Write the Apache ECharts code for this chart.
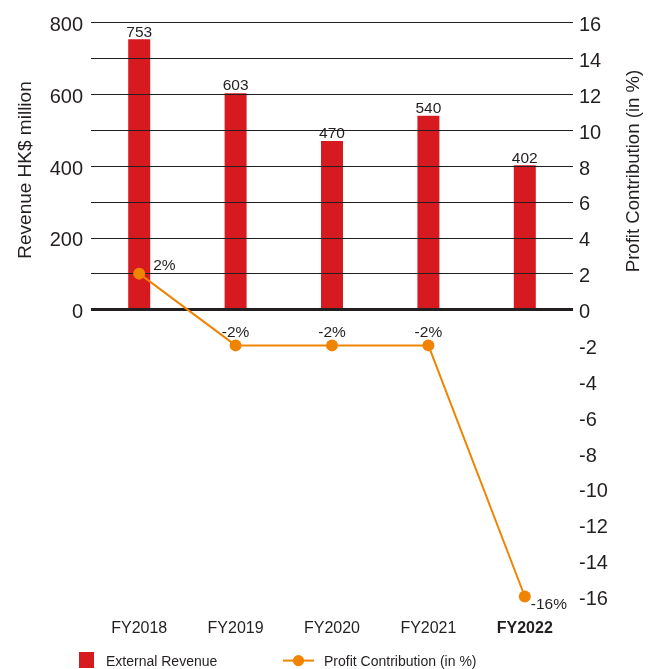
<!DOCTYPE html>
<html>
<head>
<meta charset="utf-8">
<script src="https://cdn.jsdelivr.net/npm/echarts@6/dist/echarts.min.js"></script>
<style>html,body{margin:0;padding:0;background:#fff}#c{width:654px;height:669px}</style>
</head>
<body>
<div id="c"></div>
<script>
var categories = ['FY2018', 'FY2019', 'FY2020', 'FY2021', 'FY2022'];
var revenue = [753, 603, 470, 540, 402];
var profitPct = [2, -2, -2, -2, -16];
var leftTicks = [0, 200, 400, 600, 800];

var FONT = '"Liberation Sans", Arial, Helvetica, sans-serif';
var TXT = '#231f20';
var RED = '#d71920';
var ORANGE = '#f08300';

var gridLevels = [];
for (var v = 100; v <= 800; v += 100) gridLevels.push({ yAxis: v });

var lineData = profitPct.map(function (p, i) {
  var lbl = { position: 'top', distance: -1 };
  if (i === 0) lbl = { position: 'right', offset: [0, -8], distance: 8 };
  if (i === profitPct.length - 1) lbl = { position: 'right', offset: [0, 8], distance: 0 };
  return { value: p, label: lbl };
});

var tickRich = { t: { padding: [6, 0, 0, 0], fontSize: 20, color: TXT, fontFamily: FONT } };

var chart = echarts.init(document.getElementById('c'));
chart.setOption({
  animation: false,
  textStyle: { fontFamily: FONT },
  grid: { left: 91, right: 81, top: 22.5, bottom: 72.5 },
  xAxis: {
    type: 'category',
    data: categories,
    axisLine: { show: false },
    axisTick: { show: false },
    axisLabel: {
      interval: 0,
      margin: 24,
      fontSize: 16,
      color: TXT,
      fontFamily: FONT,
      formatter: function (v, i) { return i === categories.length - 1 ? '{b|' + v + '}' : v; },
      rich: { b: { fontWeight: 'bold', fontSize: 16, color: TXT, fontFamily: FONT } }
    }
  },
  yAxis: [
    {
      type: 'value', min: -800, max: 800, interval: 100,
      axisLine: { show: false }, axisTick: { show: false }, splitLine: { show: false },
      axisLabel: {
        margin: 8, fontSize: 20, color: TXT, fontFamily: FONT, rich: tickRich,
        formatter: function (v) { return leftTicks.indexOf(v) >= 0 ? '{t|' + v + '}' : ''; }
      }
    },
    {
      type: 'value', min: -16, max: 16, interval: 2,
      axisLine: { show: false }, axisTick: { show: false }, splitLine: { show: false },
      axisLabel: {
        margin: 6, fontSize: 20, color: TXT, fontFamily: FONT, rich: tickRich,
        formatter: function (v) { return '{t|' + v + '}'; }
      }
    }
  ],
  legend: [
    {
      left: 79, top: 652, padding: 0, itemWidth: 15, itemHeight: 16, icon: 'rect',
      data: ['External Revenue'],
      formatter: '{t|{name}}',
      textStyle: { fontSize: 14, color: TXT, fontFamily: FONT,
        rich: { t: { fontSize: 14, color: TXT, fontFamily: FONT, padding: [4, 0, 0, 7] } } }
    },
    {
      left: 282, top: 655, padding: 0, itemWidth: 31, itemHeight: 14,
      data: ['Profit Contribution (in %)'],
      formatter: '{t|{name}}',
      textStyle: { fontSize: 14, color: TXT, fontFamily: FONT,
        rich: { t: { fontSize: 14, color: TXT, fontFamily: FONT, padding: [4, 0, 0, 5] } } }
    }
  ],
  graphic: [
    {
      type: 'text', x: 26, y: 170, rotation: Math.PI / 2,
      style: { text: 'Revenue HK$ million', fontSize: 19, fill: TXT, fontFamily: FONT, align: 'center', verticalAlign: 'middle' }
    },
    {
      type: 'text', x: 634, y: 171, rotation: Math.PI / 2,
      style: { text: 'Profit Contribution (in %)', fontSize: 18.6, fill: TXT, fontFamily: FONT, align: 'center', verticalAlign: 'middle' }
    }
  ],
  series: [
    {
      name: 'External Revenue', type: 'bar', yAxisIndex: 0, data: revenue,
      barWidth: 22, itemStyle: { color: RED },
      label: { show: true, position: 'top', distance: -1, fontSize: 15.5, color: TXT, fontFamily: FONT },
      markLine: {
        silent: true, symbol: 'none', animation: false,
        label: { show: false },
        lineStyle: { color: '#231f20', width: 1, type: 'solid' },
        data: gridLevels.concat([{ yAxis: 0, lineStyle: { width: 3, color: '#231f20' } }])
      },
      z: 2
    },
    {
      name: 'Profit Contribution (in %)', type: 'line', yAxisIndex: 1, data: lineData,
      symbol: 'circle', symbolSize: 12,
      lineStyle: { color: ORANGE, width: 2 }, itemStyle: { color: ORANGE },
      label: { show: true, fontSize: 15.5, color: TXT, fontFamily: FONT, formatter: '{c}%' },
      z: 5
    }
  ]
});
</script>
</body>
</html>
